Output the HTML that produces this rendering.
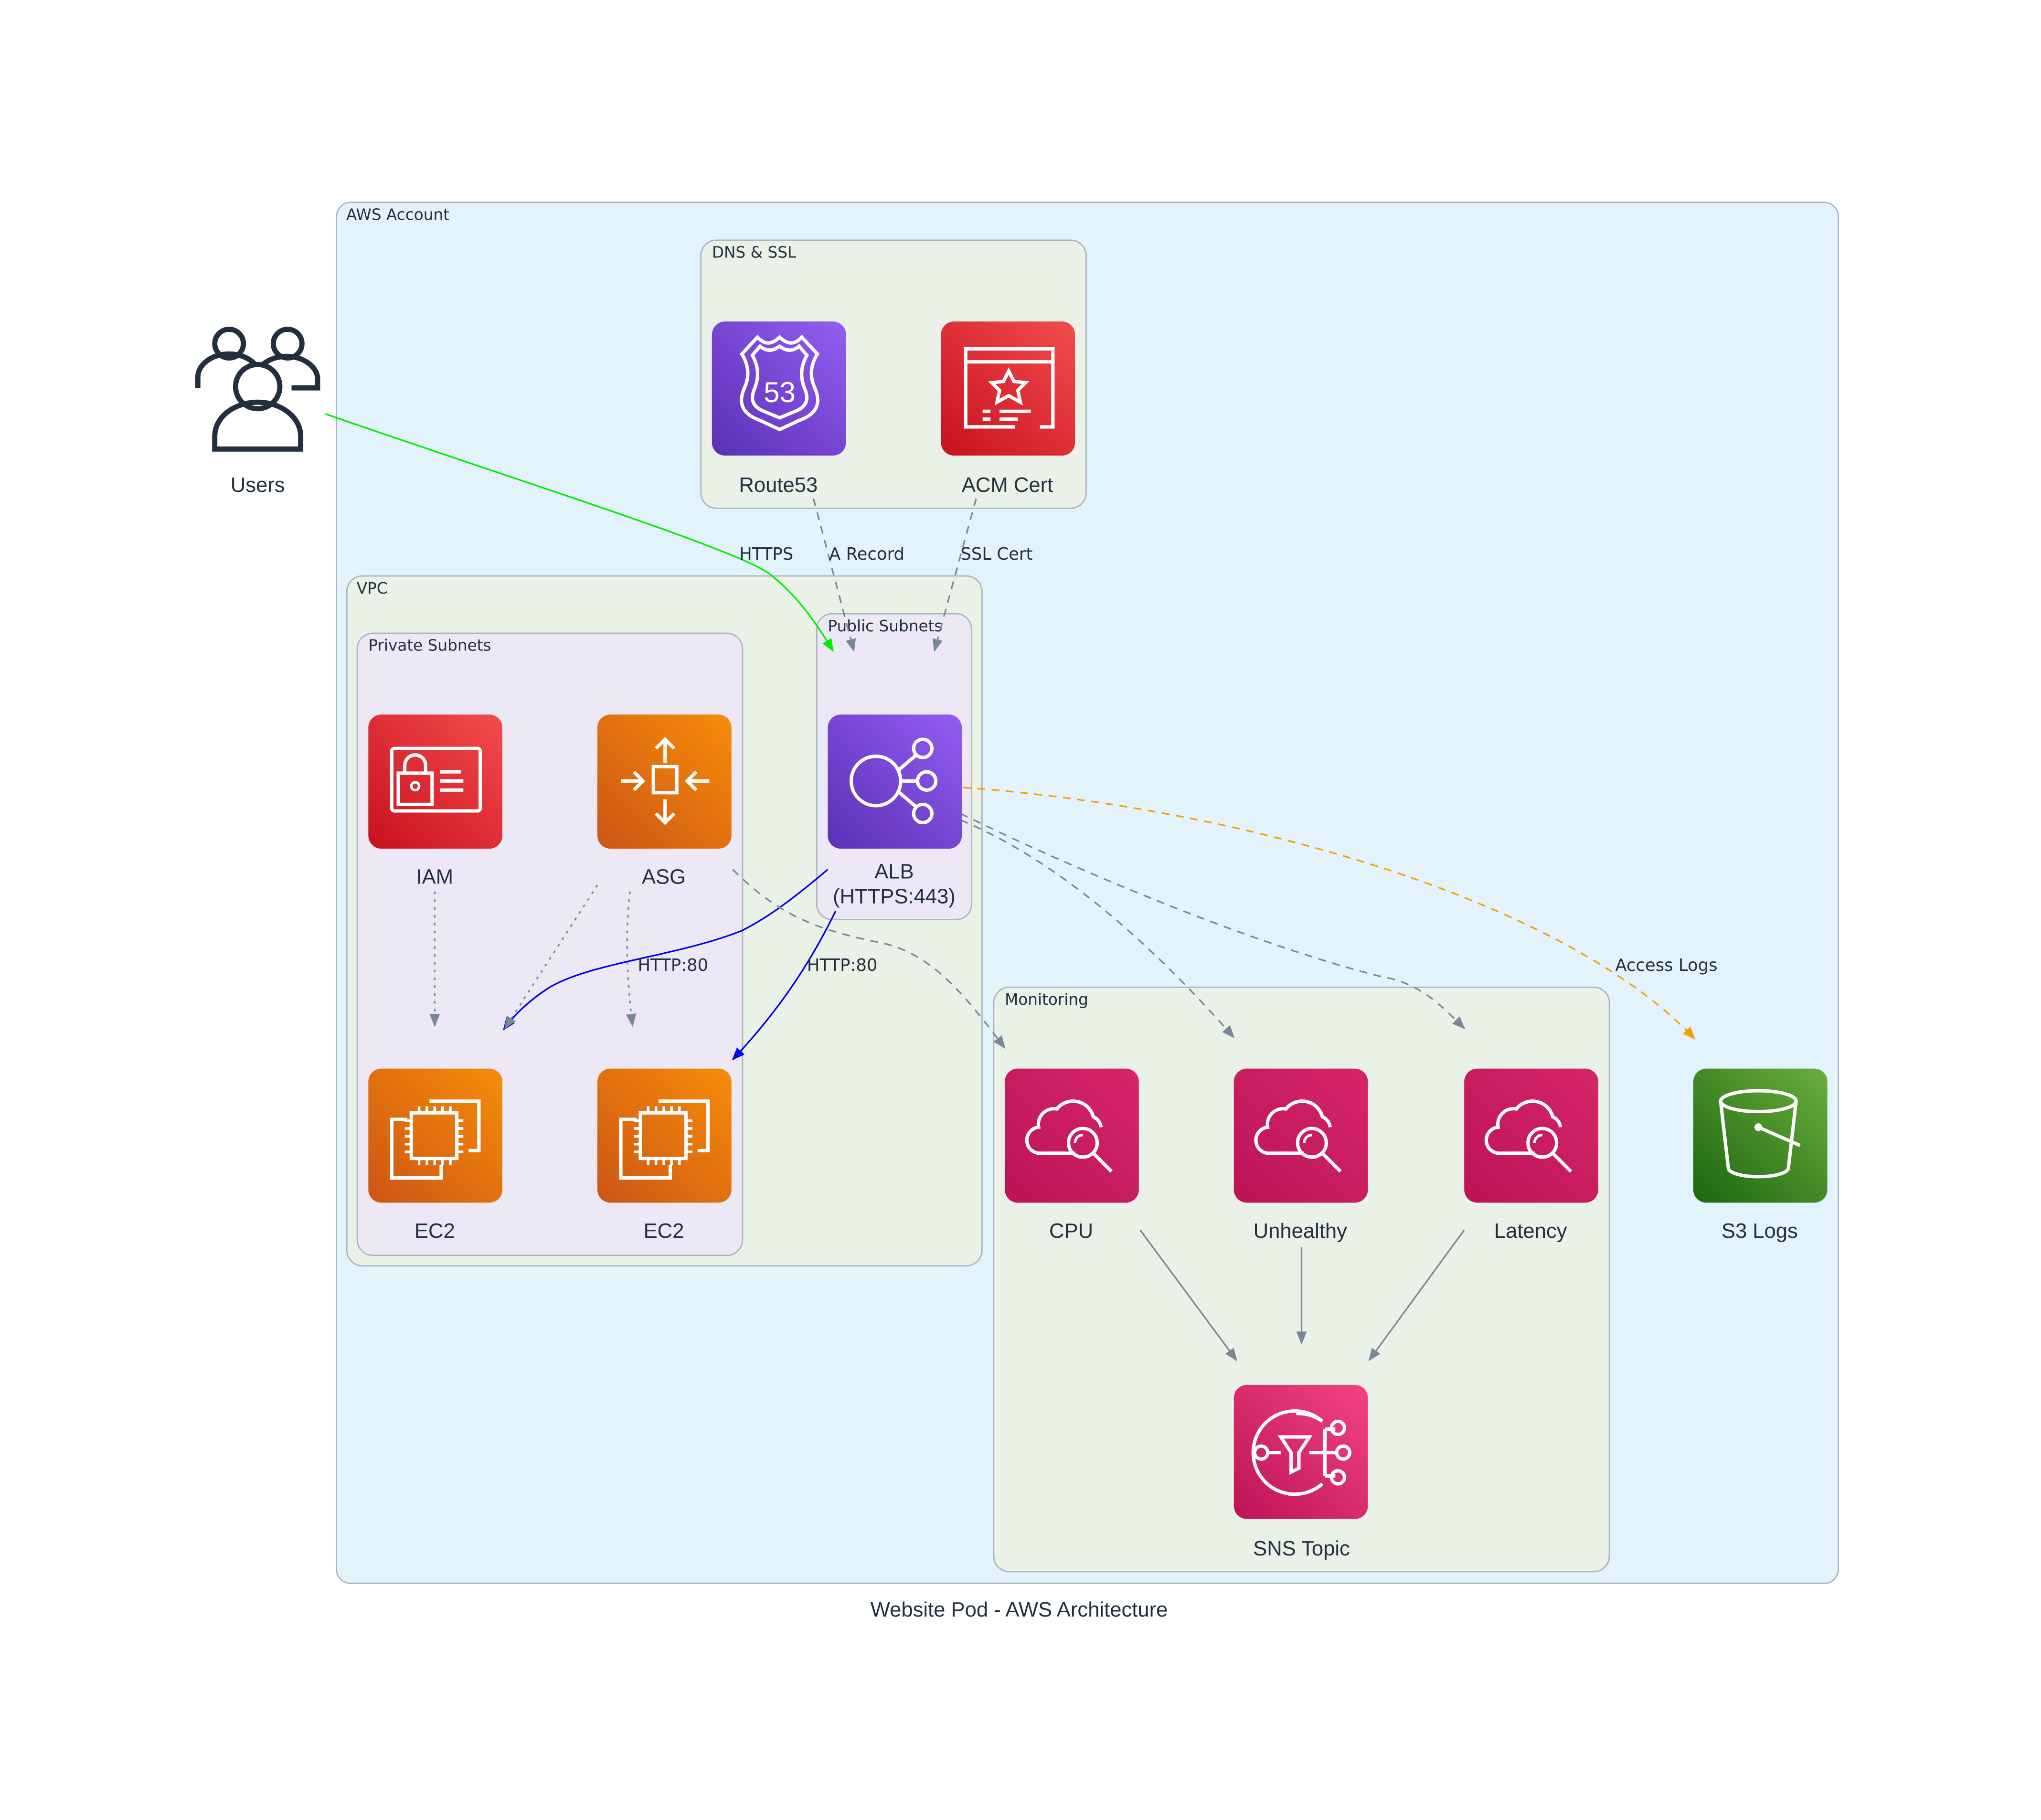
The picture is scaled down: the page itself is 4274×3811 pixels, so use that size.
<!DOCTYPE html>
<html><head><meta charset="utf-8"><style>
html,body{margin:0;padding:0;background:#fff}
svg{display:block}
text{font-family:"Liberation Sans","DejaVu Sans",sans-serif;fill:#232f3e}
.g{font-size:12px;font-family:"DejaVu Sans",sans-serif}
.n{font-size:16px;text-anchor:middle}
.e{font-size:13px;font-family:"DejaVu Sans",sans-serif}
.w{fill:none;stroke:#fff;stroke-width:2.6}
</style></head><body>
<svg width="4274" height="3811" viewBox="0 0 1560 1391" xmlns="http://www.w3.org/2000/svg">
<defs>
<linearGradient id="pu" x1="0" y1="1" x2="1" y2="0"><stop offset="0" stop-color="#5a30b5"/><stop offset="1" stop-color="#945df2"/></linearGradient>
<linearGradient id="re" x1="0" y1="1" x2="1" y2="0"><stop offset="0" stop-color="#c8111f"/><stop offset="1" stop-color="#f34c4c"/></linearGradient>
<linearGradient id="or" x1="0" y1="1" x2="1" y2="0"><stop offset="0" stop-color="#cd5515"/><stop offset="1" stop-color="#f68d09"/></linearGradient>
<linearGradient id="pk" x1="0" y1="1" x2="1" y2="0"><stop offset="0" stop-color="#bc1356"/><stop offset="1" stop-color="#d6266a"/></linearGradient>
<linearGradient id="pk2" x1="0" y1="1" x2="1" y2="0"><stop offset="0" stop-color="#bc1356"/><stop offset="1" stop-color="#f34482"/></linearGradient>
<linearGradient id="gr" x1="0" y1="1" x2="1" y2="0"><stop offset="0" stop-color="#1b660f"/><stop offset="1" stop-color="#6cae3e"/></linearGradient>
<marker id="ag" markerWidth="10" markerHeight="8" refX="9" refY="4" orient="auto" markerUnits="userSpaceOnUse"><path d="M0,0L10,4L0,8z" fill="#7b8794"/></marker>
<marker id="agr" markerWidth="10" markerHeight="8" refX="9" refY="4" orient="auto" markerUnits="userSpaceOnUse"><path d="M0,0L10,4L0,8z" fill="#00ee00"/></marker>
<marker id="ab" markerWidth="10" markerHeight="8" refX="9" refY="4" orient="auto" markerUnits="userSpaceOnUse"><path d="M0,0L10,4L0,8z" fill="#0000ee"/></marker>
<marker id="ao" markerWidth="10" markerHeight="8" refX="9" refY="4" orient="auto" markerUnits="userSpaceOnUse"><path d="M0,0L10,4L0,8z" fill="#f5a000"/></marker>
</defs>
<rect width="1560" height="1391" fill="#fff"/>
<g transform="scale(0.9948)">
<!-- clusters -->
<rect x="258.5" y="155.5" width="1154" height="1061" rx="11" fill="#e3f3fb" stroke="#aab4be"/>
<text class="g" x="266" y="169">AWS Account</text>
<rect x="538.5" y="184.5" width="296" height="206" rx="12" fill="#eaf1e6" stroke="#aab4be"/>
<text class="g" x="547" y="198">DNS &amp; SSL</text>
<rect x="266.5" y="442.5" width="488" height="530" rx="12" fill="#eaf1e6" stroke="#aab4be"/>
<text class="g" x="274" y="456">VPC</text>
<rect x="274.5" y="486.5" width="296" height="478" rx="12" fill="#ece8f5" stroke="#aab4be"/>
<text class="g" x="283" y="500">Private Subnets</text>
<rect x="627.5" y="471.5" width="119" height="235" rx="12" fill="#ece8f5" stroke="#aab4be"/>
<text class="g" x="636" y="485">Public Subnets</text>
<rect x="763.5" y="758.5" width="473" height="449" rx="12" fill="#eaf1e6" stroke="#aab4be"/>
<text class="g" x="772" y="772">Monitoring</text>

<!-- edges -->
<g fill="none" stroke-width="1.2">
<path d="M250,318 C400,370 560,420 590,440 C610,455 625,475 640,500" stroke="#00ee00" marker-end="url(#agr)"/>
<path d="M625,383 L656,500" stroke="#7b8794" stroke-dasharray="6,5" marker-end="url(#ag)"/>
<path d="M750,383 L718,500" stroke="#7b8794" stroke-dasharray="6,5" marker-end="url(#ag)"/>
<path d="M636,668 C610,690 590,705 570,715 C520,735 450,740 420,760 C405,770 395,780 387,791" stroke="#0000ee" marker-end="url(#ab)"/>
<path d="M642,700 C620,745 595,780 563,814" stroke="#0000ee" marker-end="url(#ab)"/>
<path d="M334,685 L334,788" stroke="#7b8794" stroke-dasharray="2,4" marker-end="url(#ag)"/>
<path d="M459,680 L388,790" stroke="#7b8794" stroke-dasharray="2,4" marker-end="url(#ag)"/>
<path d="M484,685 C480,720 482,755 486,788" stroke="#7b8794" stroke-dasharray="2,4" marker-end="url(#ag)"/>
<path d="M563,668 C600,705 630,715 680,725 C720,735 745,770 772,805" stroke="#7b8794" stroke-dasharray="6,5" marker-end="url(#ag)"/>
<path d="M738,630 C810,660 880,720 948,797" stroke="#7b8794" stroke-dasharray="6,5" marker-end="url(#ag)"/>
<path d="M738,625 C850,680 980,730 1060,750 C1090,755 1105,770 1125,790" stroke="#7b8794" stroke-dasharray="6,5" marker-end="url(#ag)"/>
<path d="M740,605 C950,620 1200,690 1302,798" stroke="#f5a000" stroke-dasharray="6,5" marker-end="url(#ao)"/>
<path d="M876,945 L950,1045" stroke="#7b8794" marker-end="url(#ag)"/>
<path d="M1000,958 L1000,1032" stroke="#7b8794" marker-end="url(#ag)"/>
<path d="M1125,945 L1052,1045" stroke="#7b8794" marker-end="url(#ag)"/>
</g>
<text class="e" x="568" y="430">HTTPS</text>
<text class="e" x="637" y="430">A Record</text>
<text class="e" x="738" y="430">SSL Cert</text>
<text class="e" x="490" y="746">HTTP:80</text>
<text class="e" x="620" y="746">HTTP:80</text>
<text class="e" x="1241" y="746">Access Logs</text>

<!-- Users -->
<g fill="none" stroke="#232f3e" stroke-width="4">
<circle cx="176" cy="264" r="11"/><path d="M152,298 v-8 a24,18 0 0 1 44,-10"/>
<circle cx="221" cy="264" r="11"/><path d="M202,280 a24,18 0 0 1 42,10 v8 h-20"/>
<circle cx="198" cy="297" r="17"/><path d="M165,345 v-10 a33,26 0 0 1 66,0 v10 z"/>
</g>
<text class="n" x="198" y="378">Users</text>

<!-- Route53 -->
<rect x="547" y="247" width="103" height="103" rx="10" fill="url(#pu)"/>
<path class="w" d="M570,272 L582,259 Q590,268 599,259 Q608,268 616,259 L628,272 Q620,285 626,298 Q634,316 614,323 L599,330 L584,323 Q564,316 572,298 Q578,285 570,272 Z"/>
<path class="w" d="M578,273 L584,266 Q591,272 599,266 Q607,272 614,266 L620,273 Q613,285 618,298 Q624,311 611,316 L599,321 L587,316 Q574,311 580,298 Q585,285 578,273 Z" stroke-width="2"/>
<text x="599" y="309" font-size="22" text-anchor="middle" style="fill:#fff">53</text>
<text class="n" x="598" y="378">Route53</text>
<!-- ACM -->
<rect x="723" y="247" width="103" height="103" rx="10" fill="url(#re)"/>
<path class="w" d="M780,328 h-38 v-60 h67 v60 h-10 M742,278 h67"/>
<path class="w" d="M775,285 l4,8 9,1 -6,6 2,9 -9,-5 -9,5 2,-9 -6,-6 9,-1z"/>
<path class="w" d="M755,316 h6 M768,316 h24 M755,322 h6 M768,322 h14"/>
<text class="n" x="774" y="378">ACM Cert</text>
<!-- IAM -->
<rect x="283" y="549" width="103" height="103" rx="10" fill="url(#re)"/>
<rect class="w" x="301" y="575" width="68" height="48" rx="2"/>
<rect class="w" x="306" y="594" width="26" height="24"/><path class="w" d="M311,594 v-6 a8,8 0 0 1 16,0 v6"/>
<circle cx="319" cy="604" r="3" fill="none" stroke="#fff" stroke-width="2"/>
<path class="w" d="M338,593 h16 M338,600 h18 M338,607 h18"/>
<text class="n" x="334" y="679">IAM</text>
<!-- ASG -->
<rect x="459" y="549" width="103" height="103" rx="10" fill="url(#or)"/>
<path class="w" d="M511,568 v18 M504,575 l7,-7 7,7 M511,614 v18 M504,625 l7,7 7,-7 M477,600 h16 M487,593 l7,7 -7,7 M545,600 h-16 M535,593 l-7,7 7,7"/>
<rect class="w" x="502" y="589" width="18" height="20"/>
<text class="n" x="510" y="679">ASG</text>
<!-- ALB -->
<rect x="636" y="549" width="103" height="103" rx="10" fill="url(#pu)"/>
<circle class="w" cx="673" cy="600" r="19"/>
<circle class="w" cx="709" cy="575" r="7"/><circle class="w" cx="712" cy="600" r="7"/><circle class="w" cx="709" cy="625" r="7"/>
<path class="w" d="M690,592 L704,580 M692,600 h13 M690,608 L704,620"/>
<text class="n" x="687" y="675">ALB</text>
<text class="n" x="687" y="694">(HTTPS:443)</text>
<!-- EC2 x2 -->
<g id="ec2">
<rect x="283" y="821" width="103" height="103" rx="10" fill="url(#or)"/>
<path class="w" d="M330,846 h38 v38 h-8 M313,860 h-12 v45 h38 v-10"/>
<rect class="w" x="316" y="855" width="35" height="35"/>
<path d="M322,855v-5M328,855v-5M334,855v-5M340,855v-5M346,855v-5M322,890v5M328,890v5M334,890v5M340,890v5M346,890v5M316,861h-5M316,867h-5M316,873h-5M316,879h-5M316,885h-5M351,861h5M351,867h5M351,873h5M351,879h5M351,885h5" stroke="#fff" stroke-width="2"/>
</g>
<use href="#ec2" x="176"/>
<text class="n" x="334" y="951">EC2</text>
<text class="n" x="510" y="951">EC2</text>
<!-- CloudWatch x3 -->
<g id="cw">
<rect x="772" y="821" width="103" height="103" rx="10" fill="url(#pk)"/>
<path class="w" d="M826,886 h-26 a10,10 0 0 1 -2,-20 a12,12 0 0 1 14,-14 a16,16 0 0 1 28,6 a10,10 0 0 1 6,8"/>
<circle class="w" cx="832" cy="878" r="11"/><path class="w" d="M840,886 l14,14"/>
<path d="M826,878 a6,6 0 0 1 6,-6" stroke="#fff" stroke-width="2" fill="none"/>
</g>
<use href="#cw" x="176"/>
<use href="#cw" x="353"/>
<text class="n" x="823" y="951">CPU</text>
<text class="n" x="999" y="951">Unhealthy</text>
<text class="n" x="1176" y="951">Latency</text>
<!-- S3 -->
<rect x="1301" y="821" width="103" height="103" rx="10" fill="url(#gr)"/>
<ellipse class="w" cx="1351" cy="846" rx="29" ry="8"/>
<path class="w" d="M1322,846 l6,52 c4,8 42,8 46,0 l6,-52"/>
<path class="w" d="M1351,866 l32,14"/><circle cx="1351" cy="866" r="3" fill="#fff"/>
<text class="n" x="1352" y="951">S3 Logs</text>
<!-- SNS -->
<rect x="948" y="1064" width="103" height="103" rx="10" fill="url(#pk2)"/>
<path class="w" d="M1016,1092 a32,32 0 1 0 0,48 M1016,1092 a32,32 0 0 0 -20,-6"/>
<circle class="w" cx="969" cy="1116" r="5"/>
<path class="w" d="M974,1116 h10 M984,1104 h22 l-8,12 v12 l-6,3 v-15 z M1006,1116 h12 M1018,1098 v36 M1018,1098 h8 M1018,1116 h8 M1018,1134 h8"/>
<circle class="w" cx="1028" cy="1097" r="5"/><circle class="w" cx="1032" cy="1116" r="5"/><circle class="w" cx="1028" cy="1135" r="5"/>
<text class="n" x="1000" y="1195">SNS Topic</text>

<text class="n" x="783" y="1242">Website Pod - AWS Architecture</text>
</g>
</svg>
</body></html>
